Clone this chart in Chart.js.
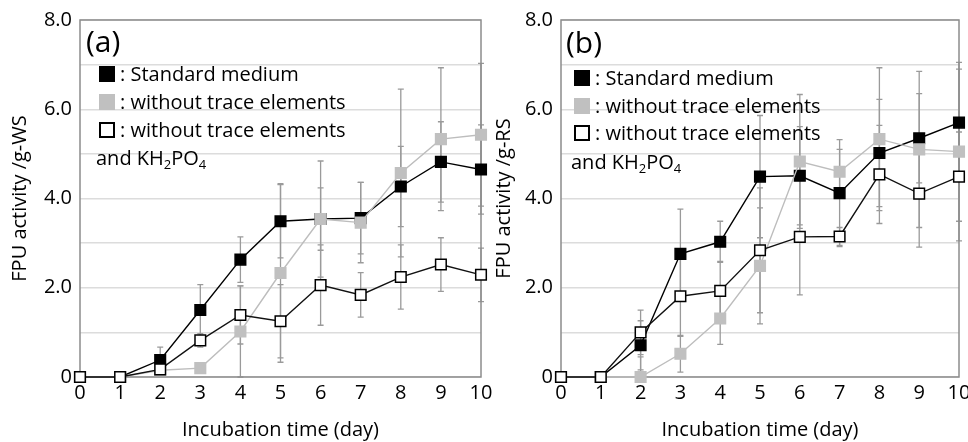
<!DOCTYPE html>
<html><head><meta charset="utf-8">
<script src="https://cdn.jsdelivr.net/npm/chart.js@4"></script>
<style>
html,body{margin:0;padding:0;background:#fff;}
#wrap{position:relative;width:968px;height:442px;overflow:hidden;font-family:'Open Sans',sans-serif;color:#000;}
.cv{position:absolute;top:0;}
.lbl{position:absolute;font-size:20px;line-height:24px;white-space:nowrap;}
.sq{position:absolute;width:16px;height:16px;box-sizing:border-box;}
.tag{position:absolute;font-size:30px;line-height:36px;white-space:nowrap;}
sub{font-size:13px;vertical-align:-4px;line-height:0;}
</style></head><body>
<div id="wrap">
<canvas id="ca" class="cv" style="left:0px" width="500" height="442"></canvas>
<canvas id="cb" class="cv" style="left:484px" width="500" height="442"></canvas>

<div class="tag" style="left:86px;top:23px">(a)</div>
<div class="sq" style="left:99px;top:66px;background:#000"></div>
<div class="lbl" style="left:120px;top:62px">: Standard medium</div>
<div class="sq" style="left:99px;top:94px;background:#c0c0c0"></div>
<div class="lbl" style="left:120px;top:90px">: without trace elements</div>
<div class="sq" style="left:99px;top:122px;background:#fff;border:2px solid #000"></div>
<div class="lbl" style="left:120px;top:118px">: without trace elements</div>
<div class="lbl" style="left:96px;top:146px">and KH<sub>2</sub>PO<sub>4</sub></div>

<div class="tag" style="left:566px;top:24px">(b)</div>
<div class="sq" style="left:574px;top:70px;background:#000"></div>
<div class="lbl" style="left:595px;top:66px">: Standard medium</div>
<div class="sq" style="left:574px;top:98px;background:#c0c0c0"></div>
<div class="lbl" style="left:595px;top:94px">: without trace elements</div>
<div class="sq" style="left:574px;top:125px;background:#fff;border:2px solid #000"></div>
<div class="lbl" style="left:595px;top:121px">: without trace elements</div>
<div class="lbl" style="left:571px;top:150px">and KH<sub>2</sub>PO<sub>4</sub></div>
</div>
<script>
// ---- data ----
const days = [0, 1, 2, 3, 4, 5, 6, 7, 8, 9, 10];
const yTickLabels = ['0', '', '2.0', '', '4.0', '', '6.0', '', '8.0'];
const seriesNames = ['Standard medium', 'without trace elements', 'without trace elements and KH2PO4'];

// panel (a) FPU activity /g-WS
const aStandard   = [0, 0, 0.38, 1.50, 2.63, 3.49, 3.54, 3.56, 4.27, 4.82, 4.65];
const aNoTrace    = [0, 0, 0.15, 0.20, 1.02, 2.33, 3.54, 3.46, 4.57, 5.33, 5.43];
const aNoTraceKH  = [0, 0, 0.17, 0.82, 1.39, 1.25, 2.06, 1.84, 2.24, 2.52, 2.29];
const aStandardErr  = [0, 0, 0.29, 0.57, 0.51, 0.82, 0.70, 0.80, 0.90, 0.90, 1.00];
const aNoTraceErr   = [0, 0, 0.05, 0.05, 1.02, 2.00, 1.30, 0.90, 1.88, 1.60, 1.60];
const aNoTraceKHErr = [0, 0, 0.08, 0.15, 0.65, 0.82, 0.90, 0.50, 0.72, 0.60, 0.60];

// panel (b) FPU activity /g-RS
const bStandard   = [0, 0, 0.71, 2.76, 3.03, 4.49, 4.51, 4.12, 5.02, 5.35, 5.70];
const bNoTrace    = [0, 0, 0.00, 0.52, 1.31, 2.49, 4.83, 4.60, 5.33, 5.10, 5.05];
const bNoTraceKH  = [0, 0, 1.00, 1.81, 1.93, 2.84, 3.14, 3.15, 4.54, 4.11, 4.49];
const bStandardErr  = [0, 0, 0.55, 1.00, 0.46, 1.37, 1.10, 1.20, 1.20, 1.00, 1.20];
const bNoTraceErr   = [0, 0, 0.45, 0.41, 0.58, 1.30, 1.50, 0.50, 1.60, 1.75, 2.00];
const bNoTraceKHErr = [0, 0, 0.50, 0.90, 0.66, 1.40, 1.30, 0.20, 1.10, 1.20, 1.00];

// ---- chart ----
const FONT = "'Open Sans', sans-serif";

const framePlugin = {
  id: 'frameAndErrors',
  beforeDatasetsDraw(chart) {
    const ctx = chart.ctx, a = chart.chartArea;
    const xs = chart.scales.x, ys = chart.scales.y;
    ctx.save();
    // error bars
    ctx.strokeStyle = '#9a9a9a';
    ctx.lineWidth = 1.3;
    chart.data.datasets.forEach(ds => {
      ds.data.forEach((p, j) => {
        const e = ds.errors[j];
        if (!e) return;
        const x = xs.getPixelForValue(p.x);
        const y1 = ys.getPixelForValue(p.y + e);
        const y2 = ys.getPixelForValue(Math.max(0, p.y - e));
        ctx.beginPath();
        ctx.moveTo(x, y1); ctx.lineTo(x, y2);
        ctx.moveTo(x - 3, y1); ctx.lineTo(x + 3, y1);
        ctx.moveTo(x - 3, y2); ctx.lineTo(x + 3, y2);
        ctx.stroke();
      });
    });
    // frame
    ctx.strokeStyle = '#8c8c8c';
    ctx.lineWidth = 1.5;
    ctx.strokeRect(a.left, a.top, a.right - a.left, a.bottom - a.top);
    ctx.restore();
  }
};

function makeChart(id, std, noT, noTKH, stdE, noTE, noTKHE, yTitle, yWidth, rightPad) {
  const pts = arr => days.map((d, i) => ({ x: d, y: arr[i] }));
  const common = { pointStyle: 'rect', pointRadius: 7.5, pointHoverRadius: 7.5, pointBorderWidth: 1.5, borderWidth: 1.4, clip: false, tension: 0 };
  return new Chart(document.getElementById(id), {
    type: 'line',
    data: {
      datasets: [
        Object.assign({ label: seriesNames[2], data: pts(noTKH), errors: noTKHE, borderColor: '#111', pointBackgroundColor: '#fff', pointBorderColor: '#000' }, common),
        Object.assign({ label: seriesNames[1], data: pts(noT), errors: noTE, borderColor: '#bdbdbd', pointBackgroundColor: '#c0c0c0', pointBorderColor: '#c0c0c0' }, common),
        Object.assign({ label: seriesNames[0], data: pts(std), errors: stdE, borderColor: '#000', pointBackgroundColor: '#000', pointBorderColor: '#000' }, common)
      ]
    },
    options: {
      responsive: false, animation: false, devicePixelRatio: 1,
      layout: { padding: { top: 15, right: rightPad, left: 0, bottom: 0 } },
      plugins: { legend: { display: false }, tooltip: { enabled: false } },
      scales: {
        x: {
          type: 'linear', min: 0, max: 10,
          grid: { display: false, drawTicks: false },
          border: { display: false },
          ticks: { stepSize: 1, padding: 4, color: '#000', font: { family: FONT, size: 20 }, maxRotation: 0, autoSkip: false },
          title: { display: true, text: 'Incubation time (day)', color: '#000', font: { family: FONT, size: 20 }, padding: { top: 0, bottom: 0 } },
          afterFit(s) { s.height = 65; }
        },
        y: {
          min: 0, max: 8,
          grid: { color: '#dcdcdc', lineWidth: 1.5, drawTicks: false },
          border: { display: false },
          ticks: { stepSize: 1, padding: 8, color: '#000', font: { family: FONT, size: 20 }, autoSkip: false,
                   callback: (v, i) => yTickLabels[i] },
          title: { display: true, text: yTitle, color: '#000', font: { family: FONT, size: 20 }, padding: { top: 8, bottom: 0 } },
          afterFit(s) { s.width = yWidth; }
        }
      }
    },
    plugins: [framePlugin]
  });
}

makeChart('ca', aStandard, aNoTrace, aNoTraceKH, aStandardErr, aNoTraceErr, aNoTraceKHErr, 'FPU activity /g-WS', 80, 19);
makeChart('cb', bStandard, bNoTrace, bNoTraceKH, bStandardErr, bNoTraceErr, bNoTraceKHErr, 'FPU activity /g-RS', 77, 25);
</script>
</body></html>
